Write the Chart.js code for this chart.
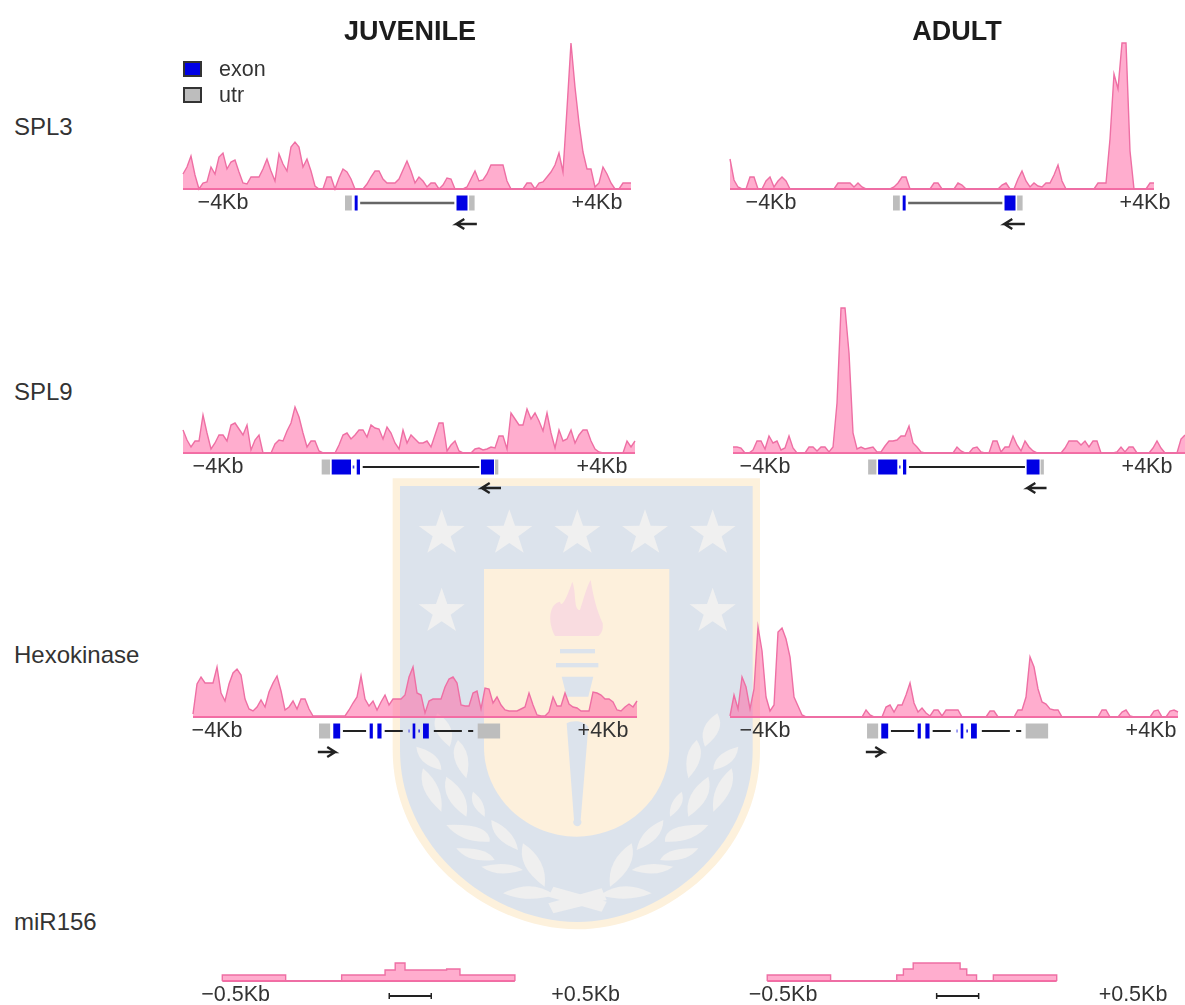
<!DOCTYPE html>
<html>
<head>
<meta charset="utf-8">
<title>SPL3, SPL9, Hexokinase, miR156</title>
<script src="https://cdn.jsdelivr.net/npm/chart.js@4/dist/chart.umd.js"></script>
<style>
  html, body { margin: 0; padding: 0; background: #fff; }
  body { position: relative; width: 1185px; height: 1005px; overflow: hidden; font-family: "Liberation Sans", Arial, sans-serif; color: #333; }
  canvas { position: absolute; }
  .label { position: absolute; white-space: nowrap; transform: translateY(-50%); }
  .column { font-size: 27px; font-weight: bold; color: #1c1c1c; transform: translate(-50%, -50%); }
  .row { font-size: 24px; left: 14px; }
  .key { font-size: 21.5px; left: 219px; }
  .swatch { position: absolute; left: 183px; width: 15px; height: 12px; border: 2px solid #333; }
  #crest { position: absolute; left: 380px; top: 470px; width: 400px; height: 470px; }
</style>
</head>
<body>

<!-- university crest sitting behind the figure -->
<svg id="crest" viewBox="0 0 1200 1410">
  <defs>
    <polygon id="star" points="0,-72 17,-23 69,-22 27,9 43,58 0,29 -43,58 -27,9 -69,-22 -17,-23"/>
    <g id="laurel" fill="#efefef">
      <path d="M975 830 Q950 770 1012 730 Q1040 780 975 830Z"/>
      <path d="M925 925 Q905 850 950 810 Q985 860 925 925Z"/>
      <path d="M1000 900 Q1000 850 1075 830 Q1070 885 1000 900Z"/>
      <path d="M925 1040 Q910 970 985 920 Q1005 985 925 1040Z"/>
      <path d="M1000 1025 Q990 950 1055 895 Q1075 960 1000 1025Z"/>
      <path d="M870 1040 Q865 995 905 965 Q920 1005 870 1040Z"/>
      <path d="M770 1140 Q780 1080 850 1050 Q850 1110 770 1140Z"/>
      <path d="M855 1115 Q850 1060 985 1065 Q940 1120 855 1115Z"/>
      <path d="M840 1170 Q860 1130 955 1135 Q920 1180 840 1170Z"/>
      <path d="M755 1200 Q800 1170 880 1190 Q830 1225 755 1200Z"/>
      <path d="M690 1250 Q680 1170 755 1120 Q775 1190 690 1250Z"/>
      <path d="M660 1275 Q730 1225 815 1270 Q740 1300 660 1275Z"/>
    </g>
  </defs>
  <path d="M38 25H1140V840C1140 1160 850 1378 592 1378C330 1378 38 1160 38 840Z" fill="#fdf1dc"/>
  <path d="M60 48H1118V840C1118 1140 840 1356 592 1356C340 1356 60 1140 60 840Z" fill="#dce3ec"/>
  <path d="M312 297H868V830C868 990 730 1100 590 1100C450 1100 312 990 312 830Z" fill="#fdf0dc"/>
  <g fill="#f0f0f0">
    <use href="#star" x="185" y="190"/><use href="#star" x="388" y="190"/><use href="#star" x="592" y="190"/>
    <use href="#star" x="795" y="190"/><use href="#star" x="998" y="190"/>
    <use href="#star" x="185" y="425"/><use href="#star" x="998" y="425"/>
  </g>
  <use href="#laurel"/>
  <use href="#laurel" transform="translate(1184,0) scale(-1,1)"/>
  <path d="M505 1300L665 1255L680 1290L520 1330Z M520 1250L680 1295L665 1325L505 1280Z" fill="#efefef"/>
  <path d="M525 498C500 450 510 400 540 395C545 420 565 370 577 335C590 370 580 420 600 420C610 390 620 350 632 330C640 380 650 420 668 460C670 480 665 490 655 498Z" fill="#f9dce0"/>
  <g fill="#dce3ec">
    <rect x="540" y="537" width="105" height="13"/>
    <rect x="528" y="579" width="127" height="13"/>
    <path d="M545 620H640L625 680H560Z"/>
    <path d="M560 760C575 750 610 750 625 770L602 1050A12 12 0 1 1 582 1050Z"/>
  </g>
</svg>

<script>
// read height of the signal, one value every bin
const spl3Juvenile = [
  15, 22, 33, 14, 0, 6, 7, 22, 15, 32, 36, 20, 27, 29, 17, 6, 5, 12, 12, 12,
  20, 30, 18, 8, 35, 25, 18, 42, 47, 42, 22, 30, 18, 3, 0, 0, 12, 12, 0, 11,
  20, 17, 10, 0, 0, 0, 5, 12, 18, 18, 10, 6, 6, 6, 10, 19, 28, 18, 6, 12,
  8, 2, 6, 6, 0, 4, 11, 10, 0, 0, 0, 2, 10, 18, 8, 9, 15, 24, 24, 24,
  24, 8, 0, 0, 0, 0, 6, 6, 0, 6, 7, 12, 17, 24, 36, 17, 80, 146, 102, 66,
  37, 20, 20, 2, 6, 22, 15, 6, 0, 0, 6, 6, 6,
];
const spl3Adult = [
  30, 9, 2, 0, 0, 12, 12, 0, 0, 8, 12, 2, 8, 12, 8, 0, 0, 0, 0, 0,
  0, 0, 0, 0, 0, 0, 0, 6, 6, 6, 6, 2, 6, 2, 0, 0, 0, 0, 0, 0,
  0, 2, 6, 12, 12, 0, 0, 0, 0, 0, 0, 6, 6, 0, 0, 0, 0, 6, 4, 0,
  0, 0, 0, 0, 0, 0, 0, 0, 4, 6, 0, 0, 10, 18, 8, 2, 6, 3, 2, 6,
  6, 14, 24, 8, 0, 0, 0, 0, 0, 0, 0, 0, 6, 6, 6, 50, 115, 100, 146, 146,
  38, 0, 0, 0, 0, 6, 6,
];
const spl9Juvenile = [
  23, 13, 6, 12, 12, 38, 20, 4, 10, 18, 18, 12, 28, 30, 24, 18, 28, 3, 13, 18,
  0, 0, 0, 9, 13, 12, 22, 30, 46, 36, 20, 6, 12, 12, 2, 0, 0, 0, 0, 8,
  18, 20, 14, 18, 23, 23, 16, 28, 25, 24, 14, 26, 20, 10, 4, 23, 10, 18, 14, 10,
  10, 12, 6, 18, 30, 30, 2, 8, 12, 2, 0, 0, 0, 4, 5, 3, 4, 6, 5, 17,
  17, 4, 40, 34, 28, 28, 44, 34, 40, 32, 22, 40, 20, 5, 23, 12, 14, 23, 10, 18,
  23, 23, 12, 4, 1, 0, 0, 0, 0, 0, 0, 12, 6, 12,
];
const spl9Adult = [
  6, 6, 5, 0, 0, 3, 12, 12, 4, 17, 10, 12, 3, 5, 17, 5, 0, 0, 0, 6,
  6, 2, 6, 6, 1, 6, 50, 145, 145, 100, 20, 4, 6, 4, 5, 6, 1, 1, 7, 12,
  12, 13, 17, 17, 27, 10, 6, 1, 0, 0, 0, 0, 0, 0, 0, 0, 6, 2, 0, 0,
  5, 6, 1, 0, 0, 12, 12, 1, 6, 6, 17, 8, 2, 12, 6, 2, 0, 0, 0, 0,
  0, 0, 0, 5, 12, 12, 12, 8, 12, 6, 12, 12, 0, 0, 0, 0, 1, 6, 1, 6,
  6, 0, 0, 0, 0, 5, 12, 5, 0, 0, 0, 0, 14, 18,
];
const hexJuvenile = [
  3, 33, 40, 34, 34, 34, 50, 24, 16, 33, 44, 48, 42, 18, 8, 6, 10, 17, 10, 25,
  34, 41, 26, 7, 10, 16, 8, 18, 18, 8, 1, 1, 1, 1, 1, 1, 1, 1, 1, 7,
  14, 20, 41, 18, 11, 16, 7, 15, 22, 12, 18, 18, 18, 22, 40, 50, 24, 22, 4, 16,
  18, 18, 18, 30, 38, 40, 34, 12, 11, 11, 24, 26, 8, 29, 28, 14, 20, 12, 7, 6,
  6, 6, 8, 10, 24, 12, 2, 1, 1, 5, 20, 11, 11, 24, 13, 10, 9, 6, 6, 6,
  25, 24, 22, 18, 18, 15, 7, 6, 10, 13, 10, 16,
];
const hexAdult = [
  1, 22, 8, 40, 30, 8, 28, 90, 66, 20, 6, 12, 85, 89, 78, 60, 20, 11, 2, 0,
  0, 0, 0, 0, 0, 0, 0, 0, 0, 0, 0, 0, 0, 0, 7, 2, 0, 0, 0, 10,
  12, 5, 12, 12, 22, 34, 14, 5, 9, 4, 1, 7, 7, 1, 7, 7, 7, 7, 0, 0,
  0, 0, 0, 0, 0, 6, 6, 0, 0, 0, 0, 0, 7, 7, 20, 60, 50, 28, 15, 13,
  8, 7, 7, 0, 0, 0, 0, 0, 0, 0, 0, 0, 0, 7, 7, 0, 0, 0, 5, 7,
  1, 0, 0, 0, 0, 0, 6, 7, 0, 0, 6, 7, 5,
];
// miR156 tracks are wide steps: edges in Kb, one height per step
const mirJuvenileEdges = [-0.538, -0.357, -0.197, -0.073, -0.044, -0.016, 0.103, 0.141, 0.298];
const mirJuvenile = [6, 0, 6, 11, 18, 11, 12, 6];
const mirAdultEdges = [-0.545, -0.364, -0.175, -0.156, -0.128, 0.006, 0.025, 0.053, 0.101, 0.282];
const mirAdult = [6, 0, 6, 12, 18, 12, 6, 0, 6];

// gene models, [start, end] in Kb
const spl3Gene = {
  utr: [[-1.39, -1.245], [1.265, 1.382]],
  exon: [[-1.183, -1.12], [0.995, 1.23]],
  dot: [],
  intron: [[-1.066, 0.948]],
  arrow: [1.43, 0.99],
};
const spl9Gene = {
  utr: [[-1.84, -1.667], [1.771, 1.84]],
  exon: [[-1.631, -1.229], [-1.11, -1.042], [1.479, 1.75]],
  dot: [[-1.194, -1.16]],
  intron: [[-0.985, 1.444]],
  arrow: [1.896, 1.494],
};
const hexGene = {
  utr: [[-1.885, -1.655], [1.403, 1.868]],
  exon: [[-1.59, -1.447], [-0.836, -0.77], [-0.676, -0.59], [0.055, 0.11], [0.27, 0.39]],
  dot: [[0.172, 0.207], [-0.03, -0.01]],
  intron: [[-1.39, -0.91], [-0.525, -0.15], [0.494, 1.075], [1.205, 1.31]],
  arrow: [-1.91, -1.55],
};
const mirScaleBar = [-0.061, 0.059];

const titles = ["JUVENILE", "ADULT"];
const rowNames = ["SPL3", "SPL9", "Hexokinase", "miR156"];
const geneTicks = [-4, 4];
const geneTickLabels = ["−4Kb", "+4Kb"];
const mirTicks = [-0.5, 0.5];
const mirTickLabels = ["−0.5Kb", "+0.5Kb"];
const keyNames = ["exon", "utr"];

const PINK_LINE = "#ee6fa4";
const PINK_FILL = "rgba(255, 105, 165, 0.55)";
const EXON_BLUE = "#0000e4";
const UTR_GRAY = "#bdbdbd";

function trackPoints(values, start, step) {
  return values.map((v, i) => ({ x: start + i * step, y: v }));
}

function stepPoints(edges, values) {
  const pts = [{ x: edges[0], y: 0 }];
  values.forEach((v, i) => pts.push({ x: edges[i], y: v }));
  pts.push({ x: edges[edges.length - 1], y: 0 });
  return pts;
}

// one line dataset for many pieces, a null y breaks the line between them
function piecePoints(pieces, y) {
  const pts = [];
  pieces.forEach(p => {
    pts.push({ x: p[0], y: y }, { x: p[1], y: y }, { x: p[1], y: null });
  });
  return pts;
}

function arrowPoints(tail, head, y, barb) {
  const back = head + (tail > head ? barb : -barb);
  return [
    { x: tail, y: y }, { x: head, y: y }, { x: back, y: y + 5 },
    { x: head, y: y }, { x: back, y: y - 5 },
  ];
}

function piece(data, color, width) {
  return { data: data, borderColor: color, borderWidth: width, pointRadius: 0, borderCapStyle: "butt", fill: false };
}

function geneDatasets(gene, kbPx, introColor, introWidth) {
  return [
    piece(piecePoints(gene.intron, -14), introColor, introWidth),
    piece(piecePoints(gene.utr, -14), UTR_GRAY, 15),
    piece(piecePoints(gene.exon, -14), EXON_BLUE, 15),
    piece(piecePoints(gene.dot, -14), "#3a3ae8", 3),
    piece(arrowPoints(gene.arrow[0], gene.arrow[1], -35, 8 / kbPx), "#222", 2.4),
  ];
}

function drawPanel(p) {
  const canvas = document.createElement("canvas");
  const height = p.yMax - p.yMin;
  canvas.width = p.width;
  canvas.height = height;
  canvas.style.left = p.left + "px";
  canvas.style.top = (p.base - p.yMax) + "px";
  document.body.appendChild(canvas);

  const signal = {
    data: p.points,
    borderColor: PINK_LINE,
    backgroundColor: PINK_FILL,
    borderWidth: 1.4,
    pointRadius: 0,
    tension: 0,
    fill: "origin",
    stepped: p.stepped || false,
  };
  // the track baseline is a bit heavier than the outline
  const span = [p.points[0].x, p.points[p.points.length - 1].x];
  const baseline = piece(piecePoints([span], 0), PINK_LINE, 2);

  new Chart(canvas.getContext("2d"), {
    type: "line",
    data: { datasets: [signal, baseline].concat(p.extra) },
    options: {
      responsive: false,
      animation: false,
      events: [],
      // autoPadding would shrink the plot around the point markers
      layout: { padding: 0, autoPadding: false },
      plugins: { legend: { display: false }, tooltip: { enabled: false } },
      scales: {
        x: {
          type: "linear",
          bounds: "data",
          position: { y: 0 },
          min: (p.left - p.centre) / p.kbPx,
          max: (p.left + p.width - p.centre) / p.kbPx,
          afterBuildTicks: axis => { axis.ticks = p.ticks.map(v => ({ value: v })); },
          grid: { display: false, drawTicks: false },
          border: { display: false },
          ticks: {
            autoSkip: false,
            maxRotation: 0,
            padding: 1,
            color: "#333",
            font: { family: "Liberation Sans", size: 21.5 },
            callback: v => p.tickLabels[p.ticks.indexOf(v)],
          },
        },
        y: { display: false, min: p.yMin, max: p.yMax },
      },
    },
  });
}

const LEFT = 170, RIGHT = 720, LEFT_W = 480, RIGHT_W = 465;
const panels = [
  { left: LEFT, width: LEFT_W, centre: 410, kbPx: 46.75, base: 189, points: trackPoints(spl3Juvenile, -4.856, 4 / 46.75), gene: spl3Gene, intron: ["#666", 2.6] },
  { left: RIGHT, width: RIGHT_W, centre: 958, kbPx: 46.75, base: 189, points: trackPoints(spl3Adult, -4.877, 4 / 46.75), gene: spl3Gene, intron: ["#666", 2.6] },
  { left: LEFT, width: LEFT_W, centre: 410, kbPx: 48, base: 453, points: trackPoints(spl9Juvenile, -4.729, 4 / 48), gene: spl9Gene, intron: ["#222", 2] },
  { left: RIGHT, width: RIGHT_W, centre: 956, kbPx: 47.75, base: 453, points: trackPoints(spl9Adult, -4.67, 4 / 47.75), gene: spl9Gene, intron: ["#222", 2] },
  { left: LEFT, width: LEFT_W, centre: 410, kbPx: 48.25, base: 717, points: trackPoints(hexJuvenile, -4.497, 4 / 48.25), gene: hexGene, intron: ["#222", 2] },
  { left: RIGHT, width: RIGHT_W, centre: 958, kbPx: 48.25, base: 717, points: trackPoints(hexAdult, -4.725, 4 / 48.25), gene: hexGene, intron: ["#222", 2] },
];

panels.forEach(p => {
  p.yMin = -50;
  p.yMax = 150;
  p.ticks = geneTicks;
  p.tickLabels = geneTickLabels;
  p.extra = geneDatasets(p.gene, p.kbPx, p.intron[0], p.intron[1]);
  drawPanel(p);
});

// miR156 row, small scale bar instead of a gene model
// canvas runs past the page bottom so the tick labels do not squeeze the plot
[
  { left: LEFT, width: LEFT_W, centre: 410.6, points: stepPoints(mirJuvenileEdges, mirJuvenile) },
  { left: RIGHT, width: RIGHT_W, centre: 958, points: stepPoints(mirAdultEdges, mirAdult) },
].forEach(p => {
  const bar = piece(piecePoints([mirScaleBar], -15), "#222", 2);
  bar.pointRadius = 3;
  bar.pointStyle = "line";
  bar.rotation = 90;
  bar.pointBorderColor = "#222";
  bar.pointBorderWidth = 1.5;
  drawPanel(Object.assign(p, {
    kbPx: 350, base: 981, yMin: -40, yMax: 60, stepped: "before",
    ticks: mirTicks, tickLabels: mirTickLabels, extra: [bar],
  }));
});

// plain text around the charts
function addLabel(text, cls, x, y) {
  const el = document.createElement("div");
  el.className = "label " + cls;
  el.textContent = text;
  if (x !== null) el.style.left = x + "px";
  el.style.top = y + "px";
  document.body.appendChild(el);
}

addLabel(titles[0], "column", 410, 31);
addLabel(titles[1], "column", 957, 31);
[127, 392, 655, 922].forEach((y, i) => addLabel(rowNames[i], "row", null, y));

[[61, EXON_BLUE], [87, UTR_GRAY]].forEach((s, i) => {
  const box = document.createElement("div");
  box.className = "swatch";
  box.style.top = s[0] + "px";
  box.style.background = s[1];
  document.body.appendChild(box);
  addLabel(keyNames[i], "key", null, i === 0 ? 69 : 95);
});
</script>
</body>
</html>
